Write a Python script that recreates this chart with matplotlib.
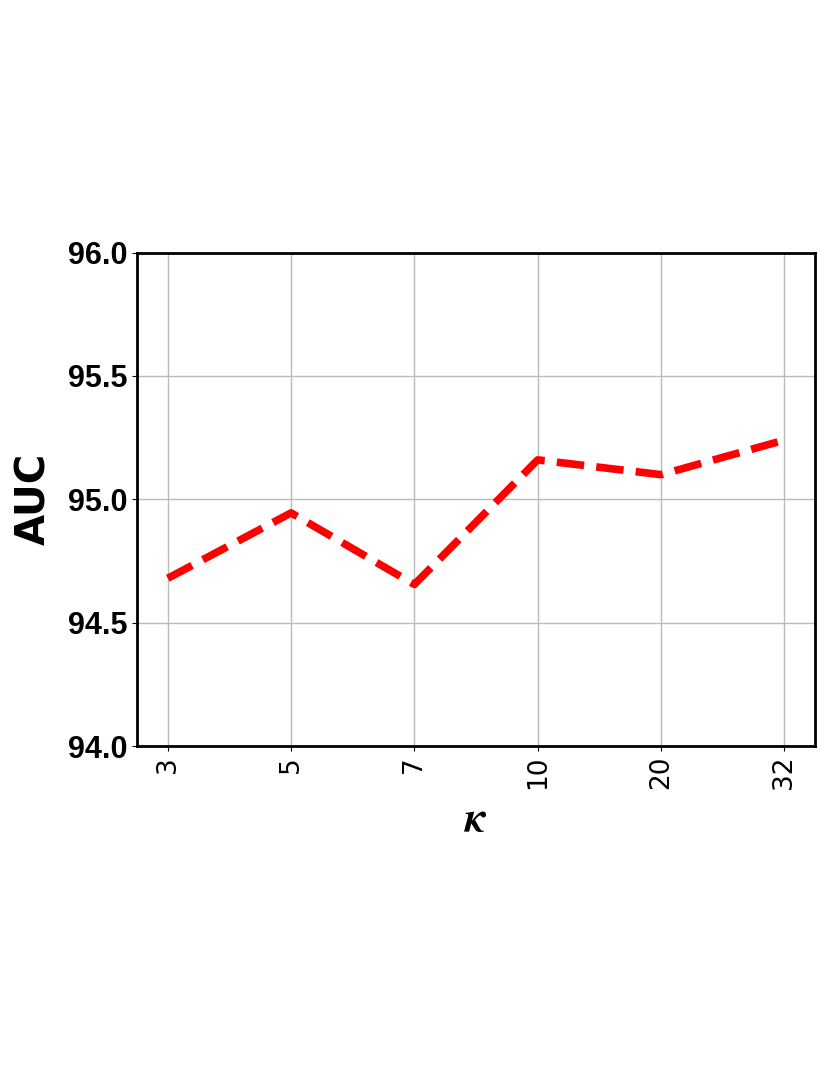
import numpy as np
import matplotlib.pyplot as plt
from matplotlib import font_manager

kappa = ['3', '5', '7', '10', '20', '32']
auc = [94.68, 94.945, 94.655, 95.16, 95.10, 95.24]
yticks = [94.0, 94.5, 95.0, 95.5, 96.0]

names = {f.name for f in font_manager.fontManager.ttflist}
narrow = 'Liberation Sans Narrow' if 'Liberation Sans Narrow' in names else 'Liberation Sans'

fig = plt.figure(figsize=(8.3, 10.75), dpi=100)
ax = fig.add_axes([0.165, 0.306, 0.817, 0.459])

x = np.arange(len(kappa))
ax.plot(x, auc, color='red', linestyle='--', linewidth=5.5, dashes=(3.6, 1.6), zorder=3)

ax.set_xlim(-0.25, 5.25)
ax.set_ylim(94.0, 96.0)
ax.set_xticks(x)
ax.set_xticklabels(kappa, rotation=90, fontsize=19, family='DejaVu Sans')
ax.set_yticks(yticks)
ax.set_yticklabels(['%.1f' % v for v in yticks], fontsize=22, fontweight='bold', family=narrow)
ax.grid(True, color='#bbbbbb', linewidth=1)
ax.set_axisbelow(True)
for s in ax.spines.values():
    s.set_linewidth(2)

ax.set_ylabel('AUC', fontsize=29, fontweight='bold', labelpad=10)
ax.set_xlabel(r'$\boldsymbol{\kappa}$', fontsize=30, labelpad=6, math_fontfamily='cm')

fig.savefig('out.png', dpi=100)
